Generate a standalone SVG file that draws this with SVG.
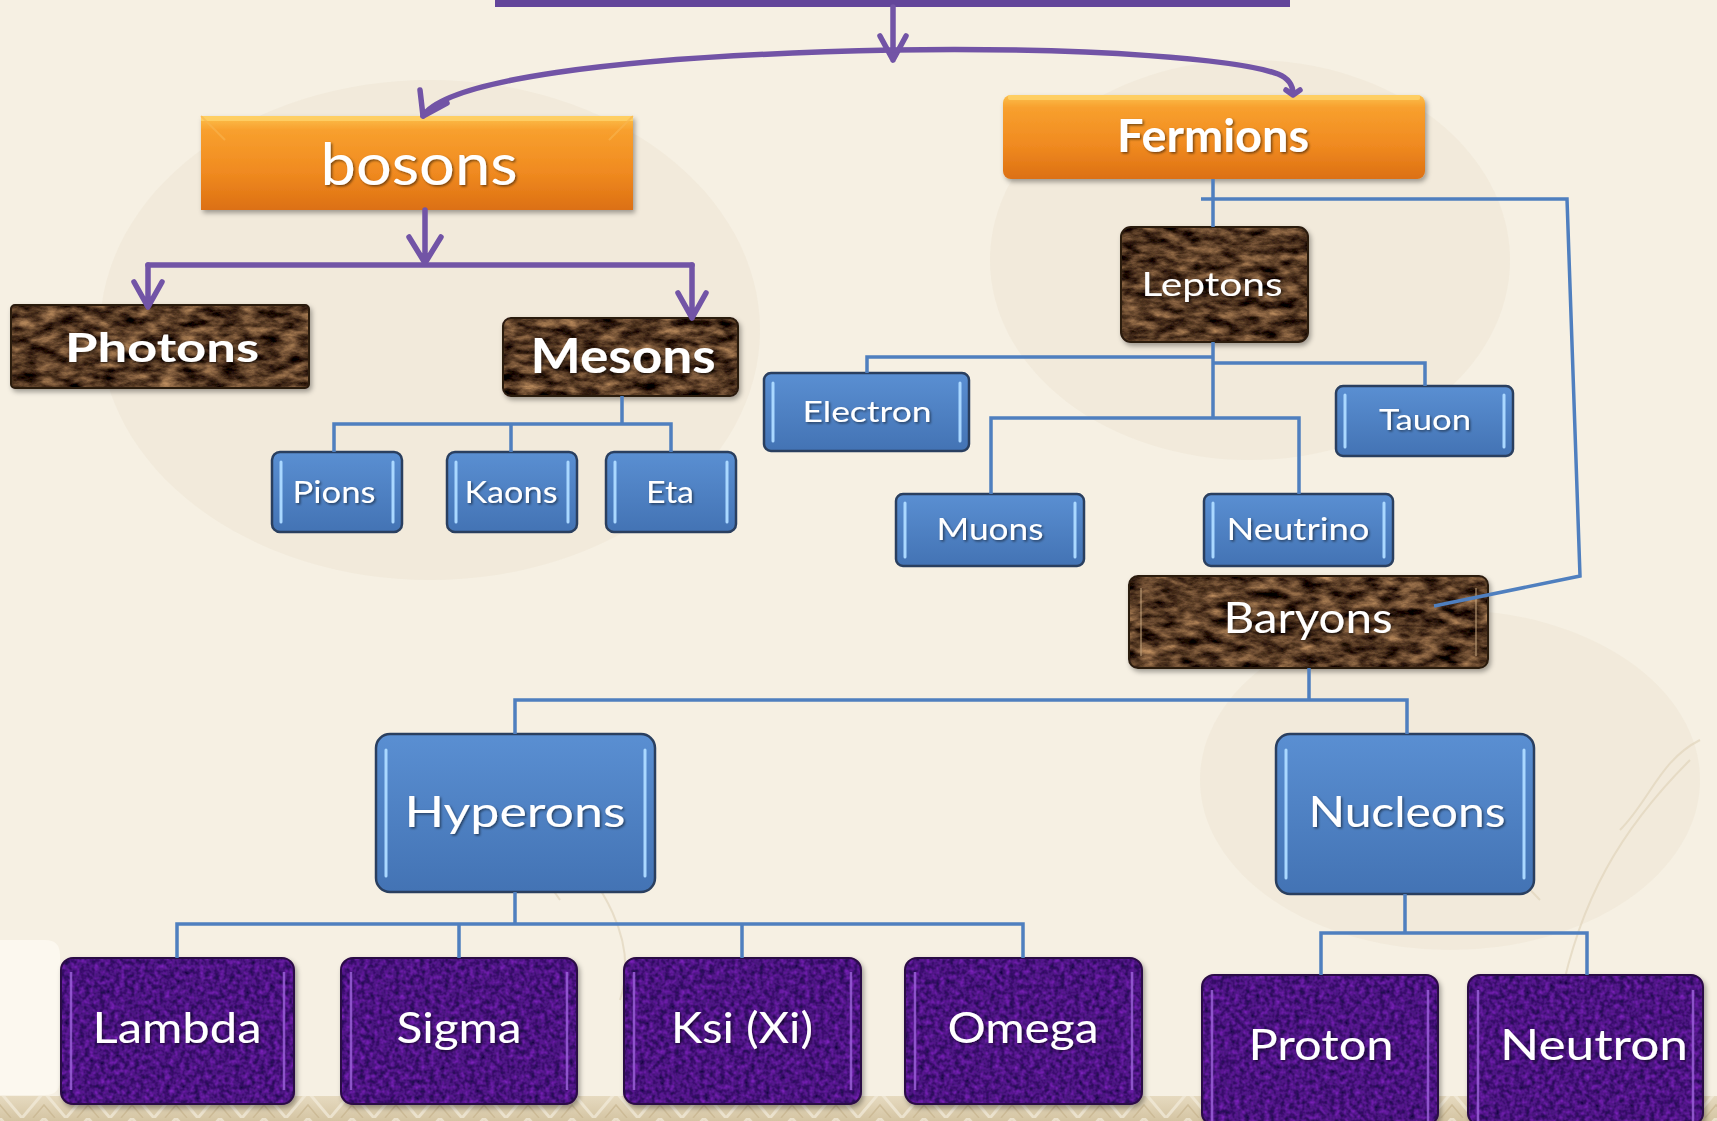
<svg xmlns="http://www.w3.org/2000/svg" width="1717" height="1121" viewBox="0 0 1717 1121">
<defs>
  <style>
    .t{font-family:Lato,"Open Sans","Liberation Sans",sans-serif;fill:#fff;text-anchor:middle;filter:url(#tshadow)}
    .tb{font-weight:bold}
    .blue{fill:url(#gBlue);stroke:#2a3f5f;stroke-width:2.5}
    .hlb{stroke:#aad8ff;stroke-width:3;stroke-linecap:round}
    .brown{fill:#4a2f1e;filter:url(#marble)}
    .brownEdge{fill:none;stroke:#2a1a10;stroke-width:2}
    .hlbr{stroke:#c9a982;stroke-width:2;opacity:.5}
    .purple{fill:#4b1080;filter:url(#velvet)}
    .purpleEdge{fill:none;stroke:#2a0845;stroke-width:2}
    .hlp{stroke:#9a60d8;stroke-width:2.5;opacity:.85}
    .orange{fill:url(#gOrange)}
    .conn{fill:none;stroke:#4f7fbf;stroke-width:3.5}
    .pconn{fill:none;stroke:#7254a6;stroke-width:5.5;stroke-linecap:round;stroke-linejoin:round}
  </style>
  <linearGradient id="gBlue" x1="0" y1="0" x2="0" y2="1">
    <stop offset="0" stop-color="#5a8fd2"/>
    <stop offset="1" stop-color="#4373b4"/>
  </linearGradient>
  <linearGradient id="gOrange" x1="0" y1="0" x2="0" y2="1">
    <stop offset="0" stop-color="#fcc04c"/>
    <stop offset="0.15" stop-color="#f8a02e"/>
    <stop offset="0.6" stop-color="#f08a20"/>
    <stop offset="1" stop-color="#dc7012"/>
  </linearGradient>
  <linearGradient id="gBand" x1="0" y1="0" x2="0" y2="1">
    <stop offset="0" stop-color="#e6dac0"/>
    <stop offset="1" stop-color="#d4c4a2"/>
  </linearGradient>
  <pattern id="pBand" width="44" height="26" patternUnits="userSpaceOnUse">
    <path d="M0 0 L22 26 L44 0" fill="none" stroke="#f3ecdc" stroke-width="3"/>
    <path d="M-11 0 L11 26 M33 26 L55 0" fill="none" stroke="#c7b48e" stroke-width="1.5"/>
  </pattern>
  <filter id="marble" x="0" y="0" width="100%" height="100%" color-interpolation-filters="sRGB">
    <feTurbulence type="fractalNoise" baseFrequency="0.05 0.11" numOctaves="5" seed="7" result="n"/>
    <feColorMatrix in="n" type="matrix" values="1.05 0 0 0 -0.19  0.85 0 0 0 -0.2  0.6 0 0 0 -0.16  0 0 0 0 1" result="c"/>
    <feComposite in="c" in2="SourceAlpha" operator="in"/>
  </filter>
  <filter id="velvet" x="0" y="0" width="100%" height="100%" color-interpolation-filters="sRGB">
    <feTurbulence type="fractalNoise" baseFrequency="0.2" numOctaves="2" seed="3" result="n"/>
    <feColorMatrix in="n" type="matrix" values="0.5 0 0 0 0.04  0.15 0 0 0 0  0.6 0 0 0 0.2  0 0 0 0 1" result="c"/>
    <feComposite in="c" in2="SourceAlpha" operator="in"/>
  </filter>
  <filter id="shadow" x="-10%" y="-10%" width="120%" height="130%">
    <feDropShadow dx="2" dy="3" stdDeviation="2.5" flood-color="#000" flood-opacity="0.35"/>
  </filter>
  <filter id="tshadow" x="-10%" y="-20%" width="120%" height="140%">
    <feDropShadow dx="1.5" dy="1.5" stdDeviation="1.2" flood-color="#000" flood-opacity="0.5"/>
  </filter>
</defs>

<!-- background -->
<rect x="0" y="0" width="1717" height="1121" fill="#f6f0e3"/>
<g opacity="0.22" fill="#e2d7bf">
  <ellipse cx="430" cy="330" rx="330" ry="250"/>
  <ellipse cx="1250" cy="260" rx="260" ry="200"/>
  <ellipse cx="1450" cy="780" rx="250" ry="170"/>
</g>
<g fill="none" stroke="#ddd0b6" stroke-width="2" opacity="0.6">
  <path d="M1560 1000 C1580 900 1620 830 1690 760 M1620 830 C1650 800 1660 760 1700 740 M1540 900 C1500 860 1480 820 1470 780"/>
  <path d="M620 1000 C640 940 600 880 560 840 M560 900 C540 870 520 850 500 840"/>
</g>
<rect x="0" y="1096" width="1717" height="25" fill="url(#gBand)"/>
<rect x="0" y="1096" width="1717" height="25" fill="url(#pBand)" opacity="0.7"/>
<path d="M0 940 H45 Q60 940 60 955 V1080 Q60 1095 45 1095 H0 Z" fill="#fcf8ef"/>

<!-- nodes -->
<g id="node-root">
  <rect x="495" y="-20" width="795" height="27" fill="#63459a"/>
</g>

<g id="node-bosons" filter="url(#shadow)">
  <rect class="orange" x="201" y="116" width="432" height="94"/>
  <rect x="201" y="116" width="432" height="5" fill="#ffd36a" opacity="0.8"/>
  <path d="M201 116 L225 140 M633 116 L609 140" stroke="#f9b550" stroke-width="2" opacity="0.6"/>
  <text class="t" x="419" y="185" font-size="58" textLength="197" lengthAdjust="spacingAndGlyphs">bosons</text>
</g>

<g id="node-fermions" filter="url(#shadow)">
  <rect class="orange" x="1003" y="95" width="422" height="84" rx="8"/>
  <rect x="1008" y="95" width="412" height="5" rx="2" fill="#ffd36a" opacity="0.8"/>
  <text class="t tb" x="1213" y="152" font-size="46" textLength="192" lengthAdjust="spacingAndGlyphs">Fermions</text>
</g>

<g id="node-photons" filter="url(#shadow)">
  <rect class="brown" x="11" y="305" width="298" height="83" rx="4"/>
  <rect class="brownEdge" x="11" y="305" width="298" height="83" rx="4"/>
  <text class="t tb" x="162" y="362" font-size="41" textLength="194" lengthAdjust="spacingAndGlyphs">Photons</text>
</g>

<g id="node-mesons" filter="url(#shadow)">
  <rect class="brown" x="503" y="318" width="235" height="78" rx="8"/>
  <rect class="brownEdge" x="503" y="318" width="235" height="78" rx="8"/>
  <text class="t tb" x="623" y="373" font-size="48" textLength="185" lengthAdjust="spacingAndGlyphs">Mesons</text>
</g>

<g id="node-pions">
  <rect class="blue" x="272" y="452" width="130" height="80" rx="8"/>
  <path class="hlb" d="M281 462 V522 M393 462 V522"/>
  <text class="t" x="334" y="503" font-size="30" textLength="83" lengthAdjust="spacingAndGlyphs">Pions</text>
</g>
<g id="node-kaons">
  <rect class="blue" x="447" y="452" width="130" height="80" rx="8"/>
  <path class="hlb" d="M456 462 V522 M568 462 V522"/>
  <text class="t" x="511" y="503" font-size="30" textLength="93" lengthAdjust="spacingAndGlyphs">Kaons</text>
</g>
<g id="node-eta">
  <rect class="blue" x="606" y="452" width="130" height="80" rx="8"/>
  <path class="hlb" d="M615 462 V522 M727 462 V522"/>
  <text class="t" x="670" y="503" font-size="30" textLength="48" lengthAdjust="spacingAndGlyphs">Eta</text>
</g>

<g id="node-leptons" filter="url(#shadow)">
  <rect class="brown" x="1121" y="227" width="187" height="115" rx="10"/>
  <rect class="brownEdge" x="1121" y="227" width="187" height="115" rx="10"/>
  <text class="t" x="1212" y="296" font-size="32" textLength="141" lengthAdjust="spacingAndGlyphs">Leptons</text>
</g>

<g id="node-electron">
  <rect class="blue" x="764" y="373" width="205" height="78" rx="7"/>
  <path class="hlb" d="M773 383 V441 M960 383 V441"/>
  <text class="t" x="867" y="422" font-size="29" textLength="129" lengthAdjust="spacingAndGlyphs">Electron</text>
</g>
<g id="node-tauon">
  <rect class="blue" x="1336" y="386" width="177" height="70" rx="7"/>
  <path class="hlb" d="M1345 395 V447 M1504 395 V447"/>
  <text class="t" x="1425" y="430" font-size="29" textLength="92" lengthAdjust="spacingAndGlyphs">Tauon</text>
</g>
<g id="node-muons">
  <rect class="blue" x="896" y="494" width="188" height="72" rx="7"/>
  <path class="hlb" d="M905 503 V557 M1075 503 V557"/>
  <text class="t" x="990" y="540" font-size="30" textLength="107" lengthAdjust="spacingAndGlyphs">Muons</text>
</g>
<g id="node-neutrino">
  <rect class="blue" x="1204" y="494" width="189" height="72" rx="7"/>
  <path class="hlb" d="M1213 503 V557 M1384 503 V557"/>
  <text class="t" x="1298" y="540" font-size="30" textLength="143" lengthAdjust="spacingAndGlyphs">Neutrino</text>
</g>

<g id="node-baryons" filter="url(#shadow)">
  <rect class="brown" x="1129" y="576" width="359" height="92" rx="9"/>
  <rect class="brownEdge" x="1129" y="576" width="359" height="92" rx="9"/>
  <path class="hlbr" d="M1141 588 V656 M1476 588 V656"/>
  <text class="t" x="1308" y="633" font-size="42" textLength="169" lengthAdjust="spacingAndGlyphs">Baryons</text>
</g>

<g id="node-hyperons">
  <rect class="blue" x="376" y="734" width="279" height="158" rx="14"/>
  <path class="hlb" d="M386 750 V876 M645 750 V876"/>
  <text class="t" x="515" y="827" font-size="43" textLength="221" lengthAdjust="spacingAndGlyphs">Hyperons</text>
</g>
<g id="node-nucleons">
  <rect class="blue" x="1276" y="734" width="258" height="160" rx="14"/>
  <path class="hlb" d="M1286 750 V878 M1524 750 V878"/>
  <text class="t" x="1407" y="827" font-size="43" textLength="197" lengthAdjust="spacingAndGlyphs">Nucleons</text>
</g>

<g id="node-lambda" filter="url(#shadow)">
  <rect class="purple" x="61" y="958" width="233" height="146" rx="12"/>
  <rect class="purpleEdge" x="61" y="958" width="233" height="146" rx="12"/>
  <path class="hlp" d="M71 972 V1090 M284 972 V1090"/>
  <text class="t" x="177" y="1043" font-size="42" textLength="169" lengthAdjust="spacingAndGlyphs">Lambda</text>
</g>
<g id="node-sigma" filter="url(#shadow)">
  <rect class="purple" x="341" y="958" width="236" height="146" rx="12"/>
  <rect class="purpleEdge" x="341" y="958" width="236" height="146" rx="12"/>
  <path class="hlp" d="M351 972 V1090 M567 972 V1090"/>
  <text class="t" x="459" y="1043" font-size="42" textLength="125" lengthAdjust="spacingAndGlyphs">Sigma</text>
</g>
<g id="node-ksi" filter="url(#shadow)">
  <rect class="purple" x="624" y="958" width="237" height="146" rx="12"/>
  <rect class="purpleEdge" x="624" y="958" width="237" height="146" rx="12"/>
  <path class="hlp" d="M634 972 V1090 M851 972 V1090"/>
  <text class="t" x="742" y="1043" font-size="42" textLength="142" lengthAdjust="spacingAndGlyphs">Ksi (Xi)</text>
</g>
<g id="node-omega" filter="url(#shadow)">
  <rect class="purple" x="905" y="958" width="237" height="146" rx="12"/>
  <rect class="purpleEdge" x="905" y="958" width="237" height="146" rx="12"/>
  <path class="hlp" d="M915 972 V1090 M1132 972 V1090"/>
  <text class="t" x="1023" y="1043" font-size="42" textLength="151" lengthAdjust="spacingAndGlyphs">Omega</text>
</g>
<g id="node-proton" filter="url(#shadow)">
  <rect class="purple" x="1202" y="975" width="236" height="150" rx="12"/>
  <rect class="purpleEdge" x="1202" y="975" width="236" height="150" rx="12"/>
  <path class="hlp" d="M1212 990 V1121 M1428 990 V1121"/>
  <text class="t" x="1321" y="1060" font-size="42" textLength="145" lengthAdjust="spacingAndGlyphs">Proton</text>
</g>
<g id="node-neutron" filter="url(#shadow)">
  <rect class="purple" x="1468" y="975" width="235" height="150" rx="12"/>
  <rect class="purpleEdge" x="1468" y="975" width="235" height="150" rx="12"/>
  <path class="hlp" d="M1478 990 V1121 M1693 990 V1121"/>
  <text class="t" x="1594" y="1060" font-size="42" textLength="188" lengthAdjust="spacingAndGlyphs">Neutron</text>
</g>

<!-- connectors -->
<g id="connectors">
  <path class="pconn" d="M893 7 V60 M880 36 L893 60 L906 36"/>
  <path class="pconn" d="M423 116 C445 82 600 56 893 50 C1100 47 1240 60 1278 74 Q1293 80 1293 94"/>
  <path class="pconn" d="M420 90 L423 116 L447 103"/>
  <path class="pconn" d="M1286 90 L1293 95 L1300 90"/>
  <path class="pconn" d="M425 210 V263 M409 237 L425 263 L441 237"/>
  <path class="pconn" d="M148 265 H692"/>
  <path class="pconn" d="M148 265 V306 M134 282 L148 307 L162 282"/>
  <path class="pconn" d="M692 265 V318 M678 293 L692 318 L706 293"/>
  <path class="conn" d="M622 396 V424 M334 452 V424 H671 V452 M511 424 V452"/>
  <path class="conn" d="M1213 179 V227 M1201 199 H1567 L1580 576 L1434 606"/>
  <path class="conn" d="M1213 342 V418 M867 373 V357 H1213 M1213 363 H1425 V386 M991 494 V418 H1299 V494"/>
  <path class="conn" d="M1309 668 V700 M515 734 V700 H1407 V734"/>
  <path class="conn" d="M515 892 V924 M177 958 V924 H1023 V958 M459 924 V958 M742 924 V958"/>
  <path class="conn" d="M1405 894 V933 M1321 975 V933 H1587 V975"/>
</g>
</svg>
